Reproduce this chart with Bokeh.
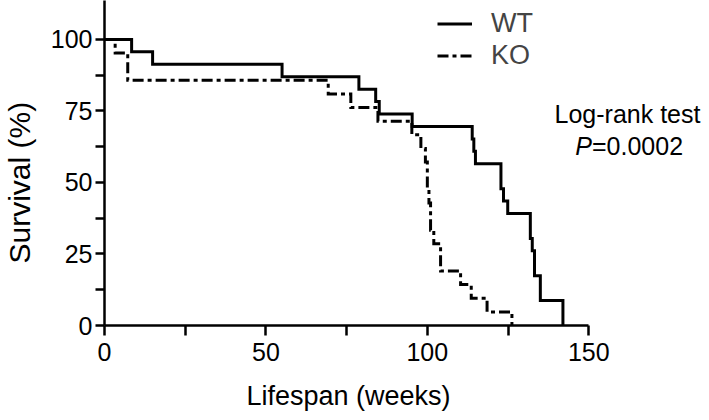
from bokeh.plotting import figure
from bokeh.models import Range1d, FixedTicker, Legend, LegendItem, Label, Title, LinearAxis
from bokeh.embed import file_html
from bokeh.resources import INLINE

# Kaplan-Meier step data (weeks, survival %)
wt_time = [0, 8.4, 14.9, 55.0, 78.8, 84.0, 85.1, 95.3, 113.9, 114.4, 114.9,
           122.8, 123.6, 124.9, 131.9, 132.5, 133.2, 135.0, 142.0]
wt_surv = [100, 95.65, 91.30, 86.96, 82.61, 78.26, 73.91, 69.57, 65.22, 60.87, 56.52,
           47.83, 43.48, 39.13, 30.43, 26.09, 17.39, 8.70, 0]

ko_time = [0, 3.3, 7.2, 69.3, 76.3, 84.7, 95.2, 98.0, 99.4, 100.0, 100.5,
           101.0, 102.0, 104.1, 110.3, 113.6, 118.5, 126.2]
ko_surv = [100, 95.24, 85.71, 80.95, 76.19, 71.43, 66.67, 61.90, 57.14, 47.62, 42.86,
           33.33, 28.57, 19.05, 14.29, 9.52, 4.76, 0]

x_ticks = [0, 50, 100, 150]
x_minor = [25, 75, 125]
y_ticks = [0, 25, 50, 75, 100]
y_minor = [12.5, 37.5, 62.5, 87.5]

series_labels = ["WT", "KO"]
x_title = "Lifespan (weeks)"
y_title = "Survival (%)"
stat_line1 = "Log-rank test"
stat_p = "P"
stat_val = "=0.0002"

FONT = "Liberation Sans"

p = figure(width=709, height=420, x_range=Range1d(0, 187.4), y_range=Range1d(0, 113.6),
           output_backend="svg", toolbar_location=None,
           min_border_left=103, min_border_right=0, min_border_top=0, min_border_bottom=95)
p.outline_line_color = None
p.grid.visible = False
p.background_fill_color = "white"

r_wt = p.step(wt_time, wt_surv, mode="after", line_color="black", line_width=3,
              line_join="miter")
r_ko = p.step(ko_time, ko_surv, mode="after", line_color="black", line_width=3,
              line_dash="11 4 4 4", line_join="miter")

for ax in (p.xaxis[0], p.yaxis[0]):
    ax.axis_line_width = 2.5
    ax.axis_line_color = "black"
    ax.major_tick_line_width = 2.5
    ax.minor_tick_line_width = 2.5
    ax.major_tick_line_color = "black"
    ax.minor_tick_line_color = "black"
    ax.major_tick_in = 0
    ax.minor_tick_in = 0
    ax.major_label_text_font = FONT
    ax.major_label_text_font_size = "25px"
    ax.major_label_text_color = "black"

xa = p.xaxis[0]
xa.ticker = FixedTicker(ticks=x_ticks, minor_ticks=x_minor)
xa.bounds = (0, 150)
xa.major_tick_out = 10
xa.minor_tick_out = 10
xa.major_label_standoff = 7

ya = p.yaxis[0]
ya.ticker = FixedTicker(ticks=y_ticks, minor_ticks=y_minor)
ya.major_tick_out = 9
ya.minor_tick_out = 9
ya.major_label_standoff = 3


def spacer_axis(size):
    # blank axis (white tick on white, no label) that only adds room before the title
    return LinearAxis(ticker=FixedTicker(ticks=[0], minor_ticks=[]), axis_line_color=None,
                      major_tick_line_color="white", major_tick_line_width=1,
                      minor_tick_line_color=None, major_tick_in=0, minor_tick_in=0,
                      major_tick_out=size, minor_tick_out=0, major_label_standoff=0,
                      major_label_overrides={0: ""}, major_label_text_font_size="1px")


p.add_layout(spacer_axis(15), "below")
p.add_layout(spacer_axis(12), "left")

# axis titles, positioned along the drawn axis extents
p.add_layout(Title(text=x_title, align="left", offset=142, standoff=0,
                   text_font=FONT, text_font_size="27px", text_font_style="normal",
                   text_color="black"), "below")
p.add_layout(Title(text=y_title, align="left", offset=62, standoff=0,
                   text_font=FONT, text_font_size="30px", text_font_style="normal",
                   text_color="black"), "left")

legend = Legend(items=[LegendItem(label=series_labels[0], renderers=[r_wt]),
                       LegendItem(label=series_labels[1], renderers=[r_ko])],
                location=(333, 254), glyph_width=35, glyph_height=31, label_height=31,
                label_standoff=19, spacing=1, padding=0, margin=0,
                border_line_color=None, background_fill_alpha=0,
                label_text_font=FONT, label_text_font_size="27px")
p.add_layout(legend)

p.add_layout(Label(x=162.0, y=74.1, text=stat_line1, text_align="center",
                   text_baseline="middle", text_font=FONT, text_font_size="25px",
                   text_color="black"))
p.add_layout(Label(x=151.0, y=62.9, text=stat_p, text_align="right",
                   text_baseline="middle", text_font=FONT, text_font_size="25px",
                   text_font_style="italic", text_color="black"))
p.add_layout(Label(x=151.0, y=62.9, text=stat_val, text_align="left",
                   text_baseline="middle", text_font=FONT, text_font_size="25px",
                   text_color="black"))

open("out.html", "w").write(file_html(p, INLINE))
